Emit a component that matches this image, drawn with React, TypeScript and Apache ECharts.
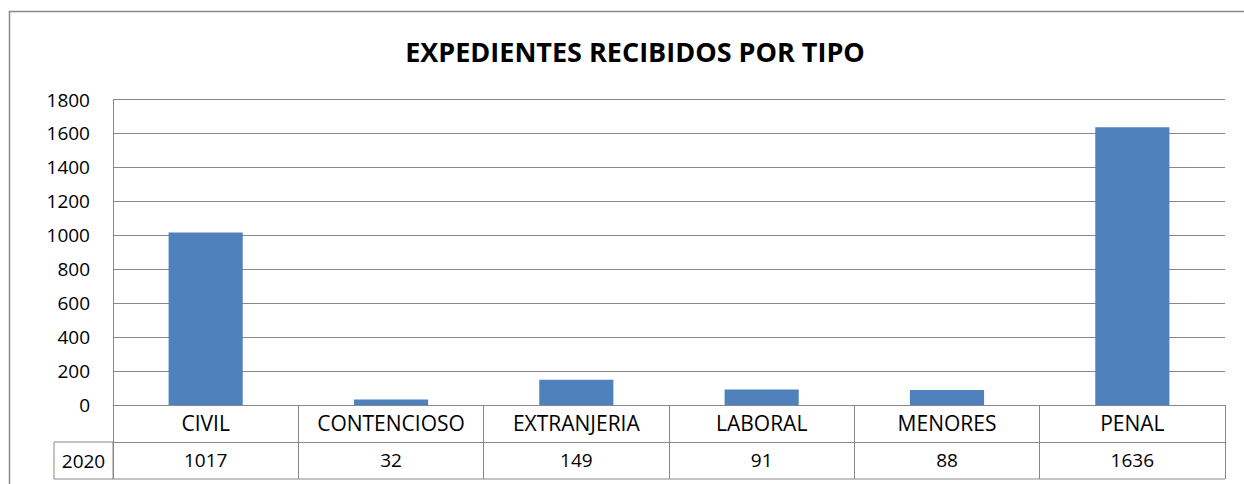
import React, { useEffect, useRef } from "react";
import * as echarts from "echarts";

const title = "EXPEDIENTES RECIBIDOS POR TIPO";
const seriesName = "2020";
const categories = ["CIVIL", "CONTENCIOSO", "EXTRANJERIA", "LABORAL", "MENORES", "PENAL"];
const values = [1017, 32, 149, 91, 88, 1636];
const yTicks = { min: 0, max: 1800, interval: 200 };

const FONT = "'Open Sans', 'Noto Sans', sans-serif";
const GRAY = "#888888";
const BLUE = "#4F81BD";

export default function App() {
  const ref = useRef<HTMLDivElement>(null);
  useEffect(() => {
    if (!ref.current) return;
    const chart = echarts.init(ref.current, null, { renderer: "svg" });
    const W = 1244;
    const gridLeft = 113;
    const gridRight = 19;
    const gridTop = 99.5;
    const gridBottom = 79;
    const rowH = 37;
    const axisY = 484 - gridBottom;
    chart.setOption({
      animation: false,
      backgroundColor: "#fff",
      title: {
        text: title,
        left: 630,
        top: 33,
        textAlign: "center",
        textStyle: { fontFamily: FONT, fontSize: 27, fontWeight: "bold", color: "#000" },
      },
      grid: { left: gridLeft, right: gridRight, top: gridTop, bottom: gridBottom, containLabel: false },
      xAxis: [
        {
          type: "category",
          data: categories,
          position: "bottom",
          axisLine: { show: true, lineStyle: { color: GRAY, width: 1 } },
          axisTick: { show: true, interval: 0, alignWithLabel: false, length: rowH * 2, lineStyle: { color: GRAY } },
          axisLabel: {
            interval: 0,
            hideOverlap: false,
            color: "#000",
            fontFamily: FONT,
            fontSize: 21,
            margin: 7,
            lineHeight: 22,
          },
        },
        {
          type: "category",
          data: values.map(String),
          position: "bottom",
          offset: rowH,
          axisLine: { show: true, lineStyle: { color: GRAY, width: 1 } },
          axisTick: { show: false },
          axisLabel: {
            interval: 0,
            hideOverlap: false,
            color: "#000",
            fontFamily: FONT,
            fontSize: 19,
            margin: 8,
            lineHeight: 20,
          },
        },
      ],
      yAxis: {
        type: "value",
        min: yTicks.min,
        max: yTicks.max,
        interval: yTicks.interval,
        axisLine: { show: true, lineStyle: { color: GRAY, width: 1 } },
        axisTick: { show: false },
        splitLine: { show: true, lineStyle: { color: GRAY, width: 1 } },
        axisLabel: {
          color: "#000",
          fontFamily: FONT,
          fontSize: 19,
          margin: 23,
          formatter: (v: number) => String(v),
        },
      },
      series: [
        {
          name: seriesName,
          type: "bar",
          xAxisIndex: 0,
          data: values,
          barWidth: "40%",
          itemStyle: { color: BLUE },
        },
      ],
      graphic: [
        {
          type: "rect",
          shape: { x: 9.5, y: 11.5, width: 1260, height: 500 },
          style: { fill: "none", stroke: GRAY, lineWidth: 1.5 },
          silent: true,
        },
        {
          type: "line",
          shape: { x1: gridLeft, y1: axisY + rowH * 2, x2: W - gridRight, y2: axisY + rowH * 2 },
          style: { stroke: GRAY, lineWidth: 1 },
          silent: true,
        },
        {
          type: "rect",
          shape: { x: 54, y: axisY + rowH, width: gridLeft - 54, height: rowH },
          style: { fill: "none", stroke: GRAY, lineWidth: 1 },
          silent: true,
        },
        {
          type: "text",
          x: (54 + gridLeft) / 2,
          y: axisY + rowH * 1.5,
          style: {
            text: seriesName,
            fill: "#000",
            font: `19px ${FONT}`,
            textAlign: "center",
            textVerticalAlign: "middle",
            align: "center",
            verticalAlign: "middle",
          },
          silent: true,
        },
      ],
    });
    return () => chart.dispose();
  }, []);
  return <div ref={ref} style={{ position: "absolute", left: 0, top: 0, width: 1244, height: 484 }} />;
}
